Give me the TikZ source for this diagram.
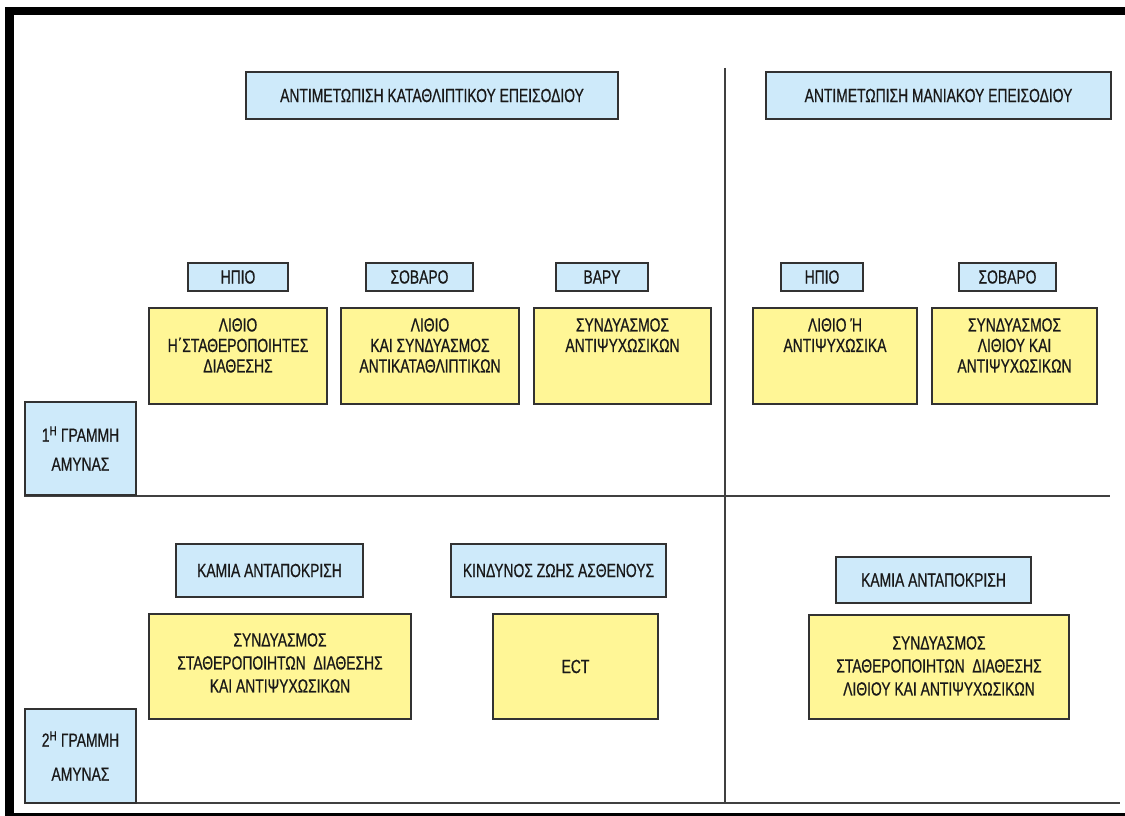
\documentclass[tikz,border=0pt]{standalone}
\usepackage{fontspec}
\setmainfont{Liberation Sans}[FakeStretch=0.73,FakeBold=0.6]
\usetikzlibrary{positioning}
\definecolor{boxblue}{RGB}{206,234,250}
\definecolor{boxyellow}{RGB}{255,246,150}
\definecolor{boxline}{RGB}{50,50,50}
\definecolor{txt}{RGB}{25,25,25}
\tikzset{
  bbox/.style={draw=boxline, line width=2pt, fill=boxblue, anchor=north west,
    inner sep=0pt, align=center, text=txt, font=\fontsize{19}{21}\selectfont},
  ybox/.style={draw=boxline, line width=2pt, fill=boxyellow, anchor=north west, inner sep=0pt},
  ytext/.style={anchor=north, align=center, inner sep=0pt, text=txt},
  sep/.style={line width=2pt, draw=black!75}
}

\begin{document}
\begin{tikzpicture}[x=1pt,y=-1pt]
\useasboundingbox (0,0) rectangle (1125,816);
\fill[white] (0,0) rectangle (1125,816);
% frame
\fill[black] (5,7) rectangle (1125,15);
\fill[black] (5,7) rectangle (14,816);
\fill[black] (14,813) rectangle (1125,816);

% headers
\node[bbox, minimum width=372, minimum height=47] (dep) at (245,71) {ΑΝΤΙΜΕΤΩΠΙΣΗ ΚΑΤΑΘΛΙΠΤΙΚΟΥ ΕΠΕΙΣΟΔΙΟΥ};
\node[bbox, minimum width=345, minimum height=47] (man) at (765,71) {ΑΝΤΙΜΕΤΩΠΙΣΗ ΜΑΝΙΑΚΟΥ ΕΠΕΙΣΟΔΙΟΥ};

% separators
\coordinate (vtop) at (725,68);
\coordinate (vbot) at (725,803);
\coordinate (hml) at (24,496);
\coordinate (hmr) at (1110,496);
\coordinate (hbl) at (24,803);
\coordinate (hbr) at (1120,803);
\draw[sep, line width=1.5pt] (vtop) -- (vbot);
\draw[sep] (hml) -- (hmr);
\draw[sep] (hbl) -- (hbr);

% first line of defence
\node[bbox, minimum width=100, minimum height=28] (mildd) at (187,262) {ΗΠΙΟ};
\node[bbox, minimum width=107, minimum height=28] (serd) at (365,262) {ΣΟΒΑΡΟ};
\node[bbox, minimum width=92, minimum height=28] (sevd) at (555,262) {ΒΑΡΥ};
\node[bbox, minimum width=82, minimum height=28] (mildm) at (780,262) {ΗΠΙΟ};
\node[bbox, minimum width=97, minimum height=28] (serm) at (958,262) {ΣΟΒΑΡΟ};

\node[ybox, minimum width=178, minimum height=96] (y1) at (148,307) {};
\node[ybox, minimum width=178, minimum height=96] (y2) at (340,307) {};
\node[ybox, minimum width=177, minimum height=96] (y3) at (533,307) {};
\node[ybox, minimum width=164, minimum height=96] (y4) at (752,307) {};
\node[ybox, minimum width=165, minimum height=96] (y5) at (931,307) {};

\begin{scope}[font=\fontsize{19}{20.5}\selectfont]
\node[ytext, below=11pt of y1.north] (t1) {ΛΙΘΙΟ\\Η΄ΣΤΑΘΕΡΟΠΟΙΗΤΕΣ\\ΔΙΑΘΕΣΗΣ};
\node[ytext, below=11pt of y2.north] (t2) {ΛΙΘΙΟ\\ΚΑΙ ΣΥΝΔΥΑΣΜΟΣ\\ΑΝΤΙΚΑΤΑΘΛΙΠΤΙΚΩΝ};
\node[ytext, below=11pt of y3.north] (t3) {ΣΥΝΔΥΑΣΜΟΣ\\ΑΝΤΙΨΥΧΩΣΙΚΩΝ};
\node[ytext, below=11pt of y4.north] (t4) {ΛΙΘΙΟ Ή\\ΑΝΤΙΨΥΧΩΣΙΚΑ};
\node[ytext, below=11pt of y5.north] (t5) {ΣΥΝΔΥΑΣΜΟΣ\\ΛΙΘΙΟΥ ΚΑΙ\\ΑΝΤΙΨΥΧΩΣΙΚΩΝ};
\end{scope}

\node[bbox, minimum width=111, minimum height=93, font=\fontsize{19}{29}\selectfont] (line1) at (24,401) {1\textsuperscript{Η} ΓΡΑΜΜΗ\\ΑΜΥΝΑΣ};

% second line of defence
\node[bbox, minimum width=187, minimum height=53] (nord) at (175,543) {ΚΑΜΙΑ ΑΝΤΑΠΟΚΡΙΣΗ};
\node[bbox, minimum width=215, minimum height=53] (risk) at (450,543) {ΚΙΝΔΥΝΟΣ ΖΩΗΣ ΑΣΘΕΝΟΥΣ};
\node[bbox, minimum width=195, minimum height=46] (norm) at (835,556) {ΚΑΜΙΑ ΑΝΤΑΠΟΚΡΙΣΗ};

\node[ybox, minimum width=262, minimum height=105] (y6) at (148,613) {};
\node[ybox, minimum width=165, minimum height=105, align=center, text=txt,
  font=\fontsize{19}{21}\selectfont] (ect) at (492,613) {ECT};
\node[ybox, minimum width=260, minimum height=104] (y7) at (808,614) {};

\begin{scope}[font=\fontsize{19}{23}\selectfont]
\node[ytext, below=20pt of y6.north] (t6) {ΣΥΝΔΥΑΣΜΟΣ\\ΣΤΑΘΕΡΟΠΟΙΗΤΩΝ\ \ ΔΙΑΘΕΣΗΣ\\ΚΑΙ ΑΝΤΙΨΥΧΩΣΙΚΩΝ};
\node[ytext, below=22pt of y7.north] (t7) {ΣΥΝΔΥΑΣΜΟΣ\\ΣΤΑΘΕΡΟΠΟΙΗΤΩΝ\ \ ΔΙΑΘΕΣΗΣ\\ΛΙΘΙΟΥ ΚΑΙ ΑΝΤΙΨΥΧΩΣΙΚΩΝ};
\end{scope}

\node[bbox, minimum width=111, minimum height=94, font=\fontsize{19}{34}\selectfont] (line2) at (24,708) {2\textsuperscript{Η} ΓΡΑΜΜΗ\\ΑΜΥΝΑΣ};
\end{tikzpicture}
\end{document}
